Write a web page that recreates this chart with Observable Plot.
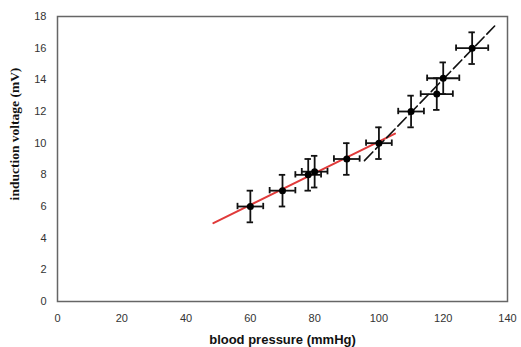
<!DOCTYPE html>
<html>
<head>
<meta charset="utf-8">
<script src="https://cdn.jsdelivr.net/npm/d3@7"></script>
<script src="https://cdn.jsdelivr.net/npm/@observablehq/plot@0.6"></script>
<style>
  html, body { margin: 0; padding: 0; background: #fff; }
  #chart svg { display: block; }
  g[aria-label="x-axis tick label"] text, g[aria-label="y-axis tick label"] text { fill: #333; }
  g[aria-label="x-axis label"] text {
    font-family: "Liberation Sans", Arial, sans-serif; font-weight: bold; font-size: 13px; fill: #111;
  }
</style>
</head>
<body>
<div id="chart"></div>
<script>
// measured points
const pressure = [60, 70, 78, 80, 90, 100, 110, 118, 120, 129];
const voltage  = [6.0, 7.0, 8.0, 8.2, 9.0, 10.0, 12.0, 13.1, 14.1, 16.0];
const voltErr  = [1, 1, 1, 1, 1, 1, 1, 1, 1, 1];
const pressErr = [4, 4, 4, 4, 4, 4, 4, 5, 5, 5];
// fitted lines
const redFitX = [48.5, 105];
const redFitY = [4.95, 10.6];
const blackFitX = [95.5, 136];
const blackFitY = [8.9, 17.4];
// ticks and titles
const xTicks = [0, 20, 40, 60, 80, 100, 120, 140];
const yTicks = [0, 2, 4, 6, 8, 10, 12, 14, 16, 18];
const xTitle = "blood pressure (mmHg)";
const yTitle = "induction voltage (mV)";

const pts = pressure.map((p, i) => ({x: p, y: voltage[i], ey: voltErr[i], ex: pressErr[i]}));
const red = redFitX.map((x, i) => ({x, y: redFitY[i]}));
const black = blackFitX.map((x, i) => ({x, y: blackFitY[i]}));

const capX = 1.0;   // half-width of vertical-bar caps, data units
const capY = 0.2;   // half-height of horizontal-bar caps, data units

const chart = Plot.plot({
  width: 521,
  height: 347,
  marginLeft: 57,
  marginRight: 14,
  marginTop: 16,
  marginBottom: 46,
  style: {fontFamily: "'Liberation Sans', Arial, sans-serif", fontSize: "11px", background: "#fff"},
  x: {domain: [0, 140], ticks: xTicks, tickSize: 0, tickPadding: 13, label: xTitle, labelArrow: "none", labelAnchor: "center", labelOffset: 42},
  y: {domain: [0, 18], ticks: yTicks, tickSize: 0, tickPadding: 11, label: null},
  marks: [
    Plot.frame({stroke: "#666", strokeWidth: 1.5}),
    Plot.text([yTitle], {frameAnchor: "left", text: d => d, rotate: -90, textAnchor: "middle", dx: -43, dy: -25,
      fontFamily: "'Liberation Serif', 'Times New Roman', serif", fontWeight: "bold", fontSize: 13.5, fill: "#111"}),
    Plot.line(red, {x: "x", y: "y", stroke: "#e03a3a", strokeWidth: 2}),
    Plot.line(black, {x: "x", y: "y", stroke: "#111", strokeWidth: 1.6, strokeDasharray: "12,4"}),
    // vertical error bars
    Plot.ruleX(pts, {x: "x", y1: d => d.y - d.ey, y2: d => d.y + d.ey, stroke: "#111", strokeWidth: 1.8}),
    Plot.ruleY(pts, {y: d => d.y - d.ey, x1: d => d.x - capX, x2: d => d.x + capX, stroke: "#111", strokeWidth: 1.8}),
    Plot.ruleY(pts, {y: d => d.y + d.ey, x1: d => d.x - capX, x2: d => d.x + capX, stroke: "#111", strokeWidth: 1.8}),
    // horizontal error bars
    Plot.ruleY(pts, {y: "y", x1: d => d.x - d.ex, x2: d => d.x + d.ex, stroke: "#111", strokeWidth: 1.8}),
    Plot.ruleX(pts, {x: d => d.x - d.ex, y1: d => d.y - capY, y2: d => d.y + capY, stroke: "#111", strokeWidth: 1.8}),
    Plot.ruleX(pts, {x: d => d.x + d.ex, y1: d => d.y - capY, y2: d => d.y + capY, stroke: "#111", strokeWidth: 1.8}),
    Plot.dot(pts, {x: "x", y: "y", r: 3.5, fill: "#000"})
  ]
});
document.getElementById("chart").appendChild(chart);
</script>
</body>
</html>
